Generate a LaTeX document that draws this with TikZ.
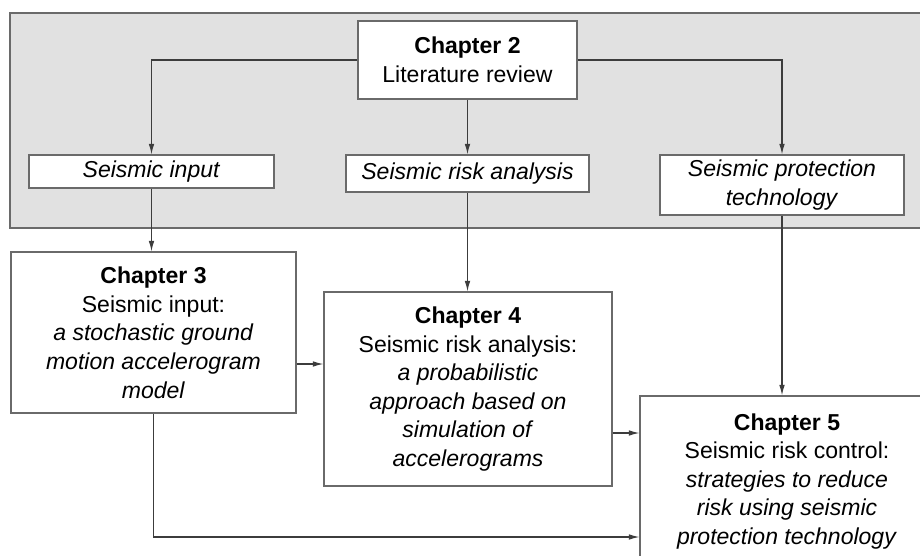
\documentclass[tikz,border=0pt]{standalone}
\usepackage{fontspec}
\setmainfont{Liberation Sans}
\usetikzlibrary{arrows.meta,calc}
\definecolor{panelfill}{HTML}{E1E1E1}
\definecolor{boxline}{HTML}{6A6A6A}
\definecolor{arrline}{HTML}{3C3C3C}
\begin{document}
\begin{tikzpicture}[x=0.02cm,y=-0.02cm,
  every node/.style={font=\fontsize{13.1}{16.3}\selectfont, align=center},
  box/.style={draw=boxline, line width=0.8pt, fill=white, inner sep=0pt},
  txt/.style={inner sep=0pt},
  arr/.style={draw=arrline, line width=0.6pt, -{Latex[length=6pt,width=3.2pt]}},
  ln/.style={draw=arrline, line width=0.6pt}]
\useasboundingbox (0,0) rectangle (920,555);
\clip (0,0) rectangle (920,555);
\fill[white] (0,0) rectangle (920,555);
% panel
\draw[draw=boxline, line width=0.8pt, fill=panelfill] (10,13) rectangle (940,228);
% nodes
\node[box, minimum width=4.38cm, minimum height=1.56cm] (ch2) at (467.5,60) {\textbf{Chapter 2}\\Literature review};
\node[box, minimum width=4.9cm, minimum height=0.66cm] (si) at (151.5,171.5) {\textit{Seismic input}};
\node[box, minimum width=4.86cm, minimum height=0.74cm] (sra) at (467.5,173.5) {\textit{Seismic risk analysis}};
\node[box, minimum width=4.88cm, minimum height=1.2cm] (spt) at (782,185) {\textit{Seismic protection}\\\textit{technology}};
\node[box, minimum width=5.7cm, minimum height=3.22cm] (ch3) at (153.5,332.5) {\textbf{Chapter 3}\\Seismic input:\\\textit{a stochastic ground}\\\textit{motion accelerogram}\\\textit{model}};
\node[box, minimum width=5.76cm, minimum height=3.88cm] (ch4) at (468,389) {\textbf{Chapter 4}\\Seismic risk analysis:\\\textit{a probabilistic}\\\textit{approach based on}\\\textit{simulation of}\\\textit{accelerograms}};
\node[box, minimum width=5.88cm, minimum height=4.2cm] (ch5) at (787,501) {};
\node[txt, anchor=north] (ch5t) at (787,413) {\textbf{Chapter 5}\\Seismic risk control:\\\textit{strategies to reduce}\\\textit{risk using seismic}\\\textit{protection technology}};
% level coordinates
\coordinate (yA) at (0,364);
\coordinate (yB) at (0,433);
\coordinate (yC) at (0,537);
% connectors
\draw[arr] (ch2.west) -| (si.north);
\draw[arr] (ch2.south) -- (sra.north);
\draw[arr] (ch2.east) -| (spt.north);
\draw[arr] (si.south) -- (si.south |- ch3.north);
\draw[arr] (sra.south) -- (sra.south |- ch4.north);
\draw[arr] (spt.south) -- (spt.south |- ch5.north);
\draw[arr] (ch3.east |- yA) -- (ch4.west |- yA);
\draw[arr] (ch4.east |- yB) -- (ch5.west |- yB);
\draw[arr] (ch3.south) |- (ch5.west |- yC);
\end{tikzpicture}
\end{document}
